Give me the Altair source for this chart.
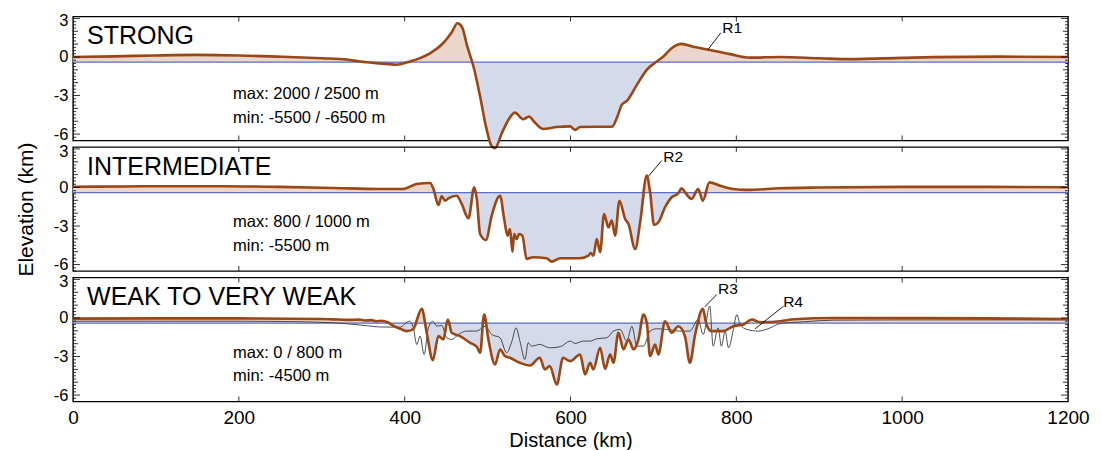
import altair as alt
import pandas as pd

X_DOMAIN = [0, 1200]
Y_DOMAIN = [-6.5, 3.15]
SEA_LEVEL = -0.4

# ---- STRONG profile ----
strong_km = [0, 50, 100, 150, 200, 250, 300, 330, 346, 370, 390, 406, 418.5, 431, 446, 457,
             463.6, 469, 475.6, 483, 491, 498, 505, 509, 517, 525, 533, 543, 550, 557, 566.6,
             583.5, 599.5, 605.5, 611.6, 631.7, 650, 656.6, 661.8, 668.6, 680, 692, 704, 712,
             722, 734, 748, 768, 792.5, 816, 853, 900, 937, 1000, 1037, 1118, 1200]
strong_elev = [0.0, 0.05, 0.12, 0.16, 0.12, 0.02, -0.1, -0.2, -0.35, -0.5, -0.6, -0.35, -0.09, 0.3,
               1.05, 1.95, 2.62, 2.35, 0.8, -0.74, -3.07, -5.4, -6.95, -7.1, -5.95, -4.9, -4.33,
               -4.85, -4.63, -5.1, -5.6, -5.45, -5.4, -5.67, -5.45, -5.43, -5.43, -4.63, -3.73,
               -3.38, -2.17, -1.0, -0.35, 0.03, 0.68, 1.02, 0.8, 0.55, 0.22, -0.05, 0.0, -0.1,
               -0.17, -0.07, -0.01, 0.03, 0.0]

# ---- INTERMEDIATE profile ----
inter_km = [0, 60, 120, 180, 250, 314, 370, 398, 414.6, 430.6, 434.7, 440.7, 444.7, 448.7, 452.7,
            462.8, 468.8, 476.9, 484, 487, 491, 498, 505, 515, 520, 524, 527, 530, 532, 535, 538,
            542, 547, 555, 571, 577.5, 587.5, 611.6, 621.6, 624.4, 627.6, 631.7, 635.7, 640.5,
            645.7, 649.8, 653.8, 659, 665.9, 669.9, 678, 684, 692, 696, 700.8, 706, 714, 722,
            730, 734, 738, 746, 754, 759.6, 767.6, 780.5, 796.5, 812.7, 853, 900, 1000, 1100, 1200]
inter_elev = [0.06, 0.08, 0.1, 0.1, 0.05, -0.04, -0.12, -0.12, 0.27, 0.35, -0.12, -1.36, -0.68,
              -1.03, -0.84, -0.64, -1.28, -2.4, 0.02, -0.89, -3.62, -4.09, -2.19, -0.64, -2.45,
              -3.75, -3.23, -5.0, -3.62, -4.01, -3.62, -3.75, -5.56, -5.43, -5.51, -5.77, -5.51,
              -5.51, -5.31, -5.1, -5.31, -4.01, -5.04, -2.06, -3.1, -2.58, -3.75, -1.03, -2.45,
              -2.84, -4.79, -2.71, 0.92, -0.37, -2.92, -2.71, -1.54, -0.76, -0.45, -0.06, -0.37,
              -0.89, -0.12, -1.03, 0.4, 0.14, -0.12, -0.19, -0.06, 0.0, 0.05, 0.05, 0.02]

# ---- WEAK TO VERY WEAK profiles ----
weak_km = [0, 100, 200, 300, 320, 335, 345, 352, 360, 366, 372, 380, 386, 395, 402.5, 410, 420.6,
           426.6, 434, 440.7, 446.7, 452, 456.8, 466.8, 479, 487, 491, 495.8, 501, 509, 515, 521,
           527, 539, 551, 563, 569, 575, 583.5, 591, 599.5, 611.6, 617.6, 623.6, 627.6, 635.7,
           641.7, 647.8, 651.8, 657.8, 663.8, 670, 676, 682, 688, 692, 696, 702, 706, 714, 722,
           730, 738, 744, 750, 759.6, 764, 770, 784, 796.5, 808.6, 818.7, 828.7, 853, 870, 917,
           1000, 1100, 1200]
weak_elev = [-0.05, -0.03, -0.03, -0.08, -0.12, -0.15, -0.13, -0.2, -0.17, -0.25, -0.22, -0.35,
             -0.6, -0.85, -1.02, -0.89, 0.71, -1.15, -3.28, -1.41, -1.67, -0.12, -1.15, -1.41,
             -1.93, -2.24, -2.71, 0.27, -1.67, -3.62, -2.45, -2.97, -3.1, -3.49, -3.7, -3.1, -4.0,
             -3.75, -5.18, -3.1, -3.36, -2.84, -4.4, -3.49, -4.0, -2.32, -3.96, -2.84, -3.49,
             -1.15, -2.45, -1.67, -2.45, -1.67, 0.27, -0.38, -2.97, -2.06, -2.84, -0.25, -1.15,
             -0.64, -1.41, -3.49, -1.41, 0.71, -0.51, -1.02, -1.02, -0.64, -0.51, -0.12, -0.33,
             -0.25, -0.1, 0.0, 0.0, -0.03, -0.08]
weak_thin_km = [0, 100, 200, 250, 314, 354, 370, 394, 405.7, 410.5, 414.6, 418.6, 423.4, 428.6,
                434, 438.7, 444.7, 450.8, 456.8, 464.8, 474.9, 487, 497, 505, 515, 523, 529,
                534.4, 539, 545, 549, 553, 563, 575, 587.5, 599.5, 605.5, 615.6, 623.6, 631.7,
                643.8, 651.8, 659.8, 667.9, 674, 680, 688, 696, 704, 716, 732, 744, 754, 760, 768,
                772, 778, 782, 786.5, 790.5, 796.5, 800.6, 804.6, 812.7, 826.7, 840.8, 853, 880,
                917, 1000, 1100, 1200]
weak_thin_elev = [-0.25, -0.25, -0.25, -0.27, -0.37, -0.6, -0.7, -0.72, -0.25, -0.77, -2.07, -1.41,
                  -2.84, -0.77, -0.25, -0.64, -0.58, -1.54, -1.67, -1.28, -1.02, -1.02, -0.64,
                  -1.28, -1.54, -2.71, -1.88, -0.77, -1.8, -3.23, -1.93, -2.19, -2.06, -2.32,
                  -2.24, -1.8, -1.98, -1.8, -1.8, -1.62, -1.54, -1.02, -0.89, -1.8, -0.64, -2.19,
                  -2.19, -1.02, -0.84, -0.89, -1.02, -1.02, -0.12, -1.28, 0.92, -2.19, -0.77,
                  -2.19, -1.02, -2.32, -0.89, 0.27, -0.51, -0.89, -1.02, -0.77, -0.43, -0.3,
                  -0.17, -0.15, -0.15, -0.15]

# ---- texts ----
panel_names = ["STRONG", "INTERMEDIATE", "WEAK TO VERY WEAK"]
max_notes = ["max: 2000 / 2500 m", "max: 800 / 1000 m", "max: 0 / 800 m"]
min_notes = ["min: -5500 / -6500 m", "min: -5500 m", "min: -4500 m"]
name_km, name_elev = 17, 1.63
note_km = 193
note_max_elev = [-2.89, -2.69, -2.69]
note_min_elev = [-4.76, -4.55, -4.55]

ref_panel = [0, 1, 2, 2]
ref_text = ["R1", "R2", "R3", "R4"]
ref_text_km = [783, 712, 778, 856.5]
ref_text_elev = [2.27, 2.37, 2.22, 1.28]
ref_from_km = [765.6, 694, 762, 822.7]
ref_from_elev = [0.56, 0.87, 0.87, -0.84]
ref_to_km = [781.3, 710, 776.5, 857]
ref_to_elev = [1.88, 2.09, 1.83, 0.92]

x_label_values = [0, 200, 400, 600, 800, 1000, 1200]
x_tick_values = [200, 400, 600, 800, 1000]
y_major = [3, 0, -3, -6]
y_medium = [2, 1, -1, -2, -4, -5]
y_minor = [q / 4 for q in range(-26, 13) if q % 4 != 0]

W, H = 995, 124
FONT = "Liberation Sans"
TAN = "#ead6ca"
BLUE_FILL = "#d4dae9"
SEA_COLOR = "#5a6ec6"
BROWN = "#994715"
INTERP = "monotone"

xscale = alt.Scale(domain=X_DOMAIN, nice=False, zero=False)
yscale = alt.Scale(domain=Y_DOMAIN, nice=False, zero=False)


def y_axis(show_title):
    return alt.Axis(values=y_major, labelExpr="datum.value + ''", labelFontSize=16.5, labelFont=FONT,
                    labelColor="black", ticks=False, domain=False, grid=False, labelPadding=5,
                    labelOffset={"condition": {"test": "datum.value == 3", "value": 2.5},
                                 "value": 0},
                    title="Elevation (km)", titleFontSize=21, titleFont=FONT, titleFontWeight="normal",
                    titleColor="black", titlePadding=17, titleOpacity=1 if show_title else 0)


x_axis_bottom = alt.Axis(values=x_label_values, labelExpr="datum.value + ''", labelFontSize=19,
                         labelFont=FONT, labelColor="black", ticks=False, domain=False, grid=False,
                         labelPadding=7, labelFlush=False, title="Distance (km)", titleFontSize=20,
                         titleFont=FONT, titleFontWeight="normal", titleColor="black", titlePadding=3)


def panel(i, km, elev, thin_km=None, thin_elev=None, bottom=False):
    yax = y_axis(i == 1)
    xax = x_axis_bottom if bottom else None

    def X(f):
        return alt.X(f, scale=xscale, axis=xax)

    def Y(f):
        return alt.Y(f, scale=yscale, axis=yax)

    df = pd.DataFrame({"km": km, "elev": elev})
    base = alt.Chart(df)
    tan = base.transform_calculate(up=f"max(datum.elev, {SEA_LEVEL})").mark_area(
        color=TAN, opacity=1, interpolate=INTERP).encode(
        x=X("km:Q"), y=Y("up:Q"), y2=alt.datum(SEA_LEVEL))
    blue = base.transform_calculate(dn=f"min(datum.elev, {SEA_LEVEL})").mark_area(
        color=BLUE_FILL, opacity=1, interpolate=INTERP).encode(
        x=X("km:Q"), y=Y("dn:Q"), y2=alt.datum(SEA_LEVEL))
    sea = alt.Chart(pd.DataFrame({"sea": [SEA_LEVEL]})).mark_rule(
        color=SEA_COLOR, strokeWidth=1.2).encode(y=Y("sea:Q"))
    layers = [tan, blue, sea]
    if thin_km is not None:
        tdf = pd.DataFrame({"km": thin_km, "elev": thin_elev})
        layers.append(alt.Chart(tdf).mark_line(color="#3a3a3a", strokeWidth=0.9,
                                               interpolate=INTERP).encode(
            x=X("km:Q"), y=Y("elev:Q")))
    layers.append(base.mark_line(color=BROWN, strokeWidth=2.6, interpolate=INTERP).encode(
        x=X("km:Q"), y=Y("elev:Q")))

    idx = [k for k in range(len(ref_panel)) if ref_panel[k] == i]
    if idx:
        rdf = pd.DataFrame({
            "t": [ref_text[k] for k in idx],
            "tk": [ref_text_km[k] for k in idx], "te": [ref_text_elev[k] for k in idx],
            "fk": [ref_from_km[k] for k in idx], "fe": [ref_from_elev[k] for k in idx],
            "ek": [ref_to_km[k] for k in idx], "ee": [ref_to_elev[k] for k in idx]})
        rc = alt.Chart(rdf)
        layers.append(rc.mark_rule(color="black", strokeWidth=0.9).encode(
            x=X("fk:Q"), x2="ek:Q", y=Y("fe:Q"), y2="ee:Q"))
        layers.append(rc.mark_text(align="left", baseline="middle", fontSize=15.5, font=FONT,
                                   color="black").encode(x=X("tk:Q"), y=Y("te:Q"), text="t:N"))

    tdf = pd.DataFrame({"k": [name_km], "e": [name_elev], "t": [panel_names[i]]})
    layers.append(alt.Chart(tdf).mark_text(align="left", baseline="middle", fontSize=25, font=FONT,
                                           color="black").encode(x=X("k:Q"), y=Y("e:Q"), text="t:N"))
    ndf = pd.DataFrame({"k": [note_km, note_km], "e": [note_max_elev[i], note_min_elev[i]],
                        "t": [max_notes[i], min_notes[i]]})
    layers.append(alt.Chart(ndf).mark_text(align="left", baseline="middle", fontSize=16.5, font=FONT,
                                           color="black").encode(x=X("k:Q"), y=Y("e:Q"), text="t:N"))

    # inward ticks
    for vals, ln in [(y_major, 7), (y_medium, 5), (y_minor, 3)]:
        d = alt.Chart(pd.DataFrame({"v": vals}))
        layers.append(d.mark_rule(color="black", strokeWidth=0.8).encode(
            y=Y("v:Q"), x=alt.value(0), x2=alt.value(ln)))
        layers.append(d.mark_rule(color="black", strokeWidth=0.8).encode(
            y=Y("v:Q"), x=alt.value(W), x2=alt.value(W - ln)))
    d = alt.Chart(pd.DataFrame({"t": x_tick_values}))
    layers.append(d.mark_rule(color="black", strokeWidth=0.8).encode(
        x=X("t:Q"), y=alt.value(0), y2=alt.value(5)))
    layers.append(d.mark_rule(color="black", strokeWidth=0.8).encode(
        x=X("t:Q"), y=alt.value(H), y2=alt.value(H - 5)))
    return alt.layer(*layers).properties(width=W, height=H)


p1 = panel(0, strong_km, strong_elev)
p2 = panel(1, inter_km, inter_elev)
p3 = panel(2, weak_km, weak_elev, weak_thin_km, weak_thin_elev, bottom=True)

chart = alt.vconcat(p1, p2, p3, spacing=6.5, bounds="flush").properties(
    padding={"left": 14, "top": 10.5, "right": 5, "bottom": 0},
    background="white",
).configure_view(stroke="black", strokeWidth=1.4)

chart.save("out.html", embed_options={"renderer": "svg", "actions": False})
